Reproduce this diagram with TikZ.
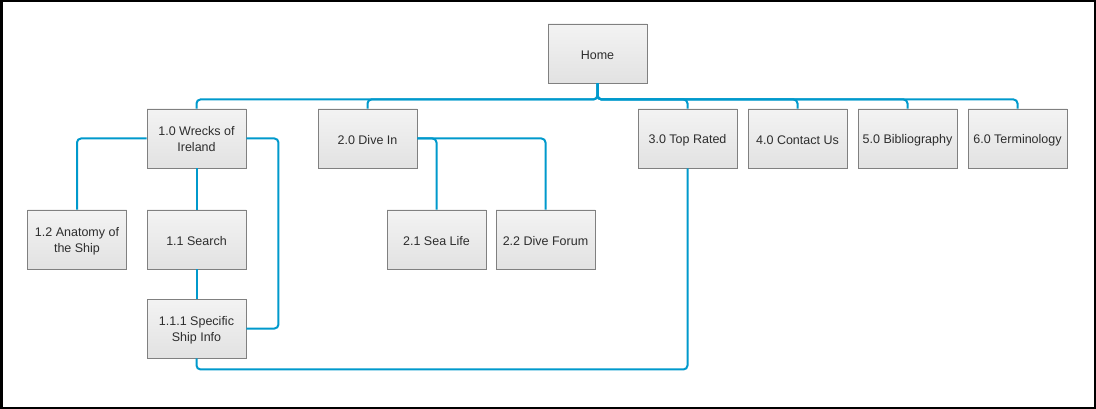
\documentclass[tikz,border=0pt]{standalone}
\usepackage{fontspec}
\setmainfont{Liberation Sans}
\definecolor{linkblue}{RGB}{0,153,204}
\definecolor{boxedge}{RGB}{128,128,128}
\definecolor{boxtop}{RGB}{243,243,243}
\definecolor{boxbot}{RGB}{226,226,226}
\definecolor{boxtext}{RGB}{45,45,45}
\tikzset{
  page/.style={draw=black,line width=2.5pt},
  pagebox/.style={draw=boxedge,line width=0.9pt,top color=boxtop,bottom color=boxbot,
    minimum width=99pt,minimum height=59pt,inner sep=0pt,align=center,
    text=boxtext,font=\fontsize{12.5}{16}\selectfont,
    execute at begin node={\rule{0pt}{12.5pt}}},
  twoline/.style={text depth=-2pt},
  link/.style={draw=linkblue,line width=2pt,rounded corners=4pt}
}
\begin{document}
\begin{tikzpicture}[x=1pt,y=-1pt]
\useasboundingbox (0,0) rectangle (1096,409);
\draw[page](1.25,1.25) rectangle (1094.75,407.75);

\node[pagebox] (home) at (597.5,53.5) {Home};
\node[pagebox,twoline] (wrecks) at (196.5,138.5) {1.0 Wrecks of\\Ireland};
\node[pagebox] (divein) at (367.5,138.5) {2.0 Dive In};
\node[pagebox] (toprated) at (687.5,138.5) {3.0 Top Rated};
\node[pagebox] (contact) at (797.5,138.5) {4.0 Contact Us};
\node[pagebox] (biblio) at (907.5,138.5) {5.0 Bibliography};
\node[pagebox] (terms) at (1017.5,138.5) {6.0 Terminology};
\node[pagebox,twoline] (anatomy) at (77,239.5) {1.2 Anatomy of\\the Ship};
\node[pagebox] (search) at (196.5,239.5) {1.1 Search};
\node[pagebox,twoline] (specific) at (196.5,328.5) {1.1.1 Specific\\Ship Info};
\node[pagebox] (sealife) at (436.5,239.5) {2.1 Sea Life};
\node[pagebox] (forum) at (545.5,239.5) {2.2 Dive Forum};

\foreach \child in {wrecks,divein,toprated,contact,biblio,terms}
  \draw[link](home.south) -- ++(0,16) -| (\child.north);

\draw[link](wrecks.west) -| (anatomy.north);
\draw[link](wrecks.south) -- (search.north);
\draw[link](search.south) -- (specific.north);
\draw[link](wrecks.east) -- ++(32,0) |- (specific.east);
\draw[link](specific.south) -- ++(0,11) -| (toprated.south);
\draw[link](divein.east) -| (sealife.north);
\draw[link](divein.east) -| (forum.north);

\end{tikzpicture}
\end{document}
